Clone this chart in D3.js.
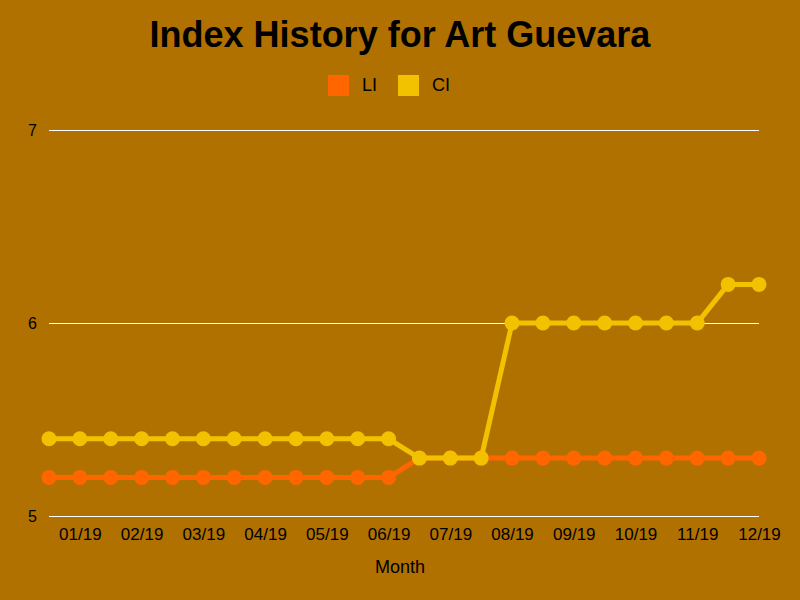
<!doctype html>
<html>
<head>
<meta charset="UTF-8">
<title>Index History for Art Guevara</title>
<script src="https://d3js.org/d3.v7.min.js"></script>
<style>
  body { margin: 0; background: #b07100; }
  svg text { font-family: "Liberation Sans", Arial, sans-serif; fill: #000; }
</style>
</head>
<body>
<svg id="chart" width="800" height="600"></svg>
<script>
// half-month periods, ticks labelled on the odd ones
var periods = d3.range(24);
var monthLabels = ["01/19","02/19","03/19","04/19","05/19","06/19",
                   "07/19","08/19","09/19","10/19","11/19","12/19"];
var tickPeriods = [1,3,5,7,9,11,13,15,17,19,21,23];

var seriesNames = ["LI", "CI"];
var seriesColors = ["#ff6600", "#f2c200"];

var liValues = [5.2,5.2,5.2,5.2,5.2,5.2,5.2,5.2,5.2,5.2,5.2,5.2,
                5.3,5.3,5.3,5.3,5.3,5.3,5.3,5.3,5.3,5.3,5.3,5.3];
var ciValues = [5.4,5.4,5.4,5.4,5.4,5.4,5.4,5.4,5.4,5.4,5.4,5.4,
                5.3,5.3,5.3,6.0,6.0,6.0,6.0,6.0,6.0,6.0,6.2,6.2];

var yTicks = [5, 6, 7];

var svg = d3.select("#chart");
svg.append("rect").attr("width", 800).attr("height", 600).attr("fill", "#b07100");

var x = d3.scaleLinear().domain([0, 23]).range([49, 759]);
var y = d3.scaleLinear().domain([5, 7]).range([516, 130]);

// gridlines + y labels
var yAxis = svg.append("g")
    .attr("transform", "translate(49,0)")
    .call(d3.axisLeft(y).tickValues(yTicks).tickSize(-710).tickFormat(d3.format("d")));
yAxis.select(".domain").remove();
yAxis.selectAll(".tick line").attr("stroke", "#fff").attr("stroke-width", 1);
yAxis.selectAll(".tick text").attr("x", -12).attr("font-size", 16).attr("fill", "#000");

// x axis labels
var xAxis = svg.append("g")
    .attr("transform", "translate(0,516)")
    .call(d3.axisBottom(x).tickValues(tickPeriods).tickSize(0)
      .tickFormat(function(d, i) { return monthLabels[i]; }));
xAxis.select(".domain").remove();
xAxis.selectAll(".tick text").attr("y", 12).attr("font-size", 17).attr("fill", "#000");

svg.append("text").attr("x", 400).attr("y", 573).attr("text-anchor", "middle")
    .attr("font-size", 18).text("Month");

// series
var allSeries = [liValues, ciValues];
var line = d3.line().x(function(d, i) { return x(periods[i]); }).y(function(d) { return y(d); });

allSeries.forEach(function(vals, s) {
  var g = svg.append("g");
  g.append("path").datum(vals).attr("d", line)
    .attr("fill", "none").attr("stroke", seriesColors[s]).attr("stroke-width", 5)
    .attr("stroke-linejoin", "round");
  g.selectAll("circle").data(vals).enter().append("circle")
    .attr("cx", function(d, i) { return x(periods[i]); })
    .attr("cy", function(d) { return y(d); })
    .attr("r", 7.5)
    .attr("fill", seriesColors[s]);
});

// title
svg.append("text").attr("x", 400).attr("y", 47).attr("text-anchor", "middle")
    .attr("font-size", 36).attr("font-weight", "bold").text("Index History for Art Guevara");

// legend
var legend = svg.append("g");
var legX = [328, 398];
seriesNames.forEach(function(name, i) {
  legend.append("rect").attr("x", legX[i]).attr("y", 75).attr("width", 21).attr("height", 21)
    .attr("fill", seriesColors[i]);
  legend.append("text").attr("x", legX[i] + 34).attr("y", 91).attr("font-size", 18).text(name);
});
</script>
</body>
</html>
